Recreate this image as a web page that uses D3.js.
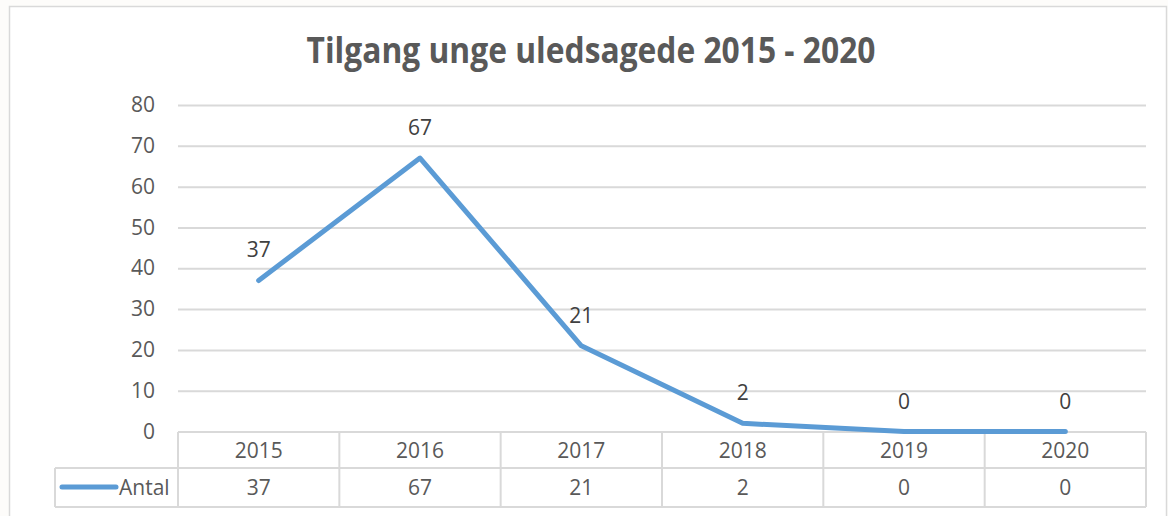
<!DOCTYPE html>
<html>
<head>
<meta charset="utf-8">
<script src="https://cdn.jsdelivr.net/npm/d3@7"></script>
<style>
  html, body { margin: 0; padding: 0; background: #fdfcfa; }
  svg { display: block; }
  text { font-family: "Open Sans", "Noto Sans", sans-serif; }
</style>
</head>
<body>
<svg id="chart"></svg>
<script>
const years = ["2015", "2016", "2017", "2018", "2019", "2020"];
const antal = [37, 67, 21, 2, 0, 0];
const yTicks = [0, 10, 20, 30, 40, 50, 60, 70, 80];
const seriesName = "Antal";
const title = "Tilgang unge uledsagede 2015 - 2020";

const width = 1168, height = 516;
const margin = {top: 105, left: 178, right: 1146, bottom: 431.5};
const row1 = 468, row2 = 507, legendLeft = 55;
const grid = "#d9d9d9", textCol = "#595959", blue = "#5b9bd5";

const svg = d3.select("#chart").attr("width", width).attr("height", height);

// chart area
svg.append("rect").attr("x", 9.5).attr("y", 6.5)
  .attr("width", 1157).attr("height", 520)
  .attr("fill", "#fff").attr("stroke", grid).attr("stroke-width", 1.5);

const x = d3.scaleBand().domain(years).range([margin.left, margin.right]);
const y = d3.scaleLinear().domain([0, 80]).range([margin.bottom, margin.top]);

// gridlines + y labels
const yAxis = d3.axisLeft(y).tickValues(yTicks)
  .tickSize(-(margin.right - margin.left)).tickPadding(23);
const ga = svg.append("g").attr("transform", `translate(${margin.left},0)`).call(yAxis);
ga.select(".domain").remove();
ga.selectAll(".tick line").attr("stroke", grid).attr("stroke-width", 2)
  .filter(d => d === 0).remove();
ga.selectAll(".tick text").attr("fill", textCol)
  .style("font-size", "21px").style("font-family", "'Open Sans', sans-serif");

// title
svg.append("text").attr("x", 591).attr("y", 63)
  .attr("text-anchor", "middle").attr("fill", textCol)
  .attr("font-weight", "bold").style("font-size", "35px")
  .attr("textLength", 569).attr("lengthAdjust", "spacingAndGlyphs")
  .text(title);

// data table
const tbl = svg.append("g").attr("stroke", grid).attr("stroke-width", 2).attr("fill", "none");
tbl.append("line").attr("x1", margin.left).attr("x2", margin.right).attr("y1", 432).attr("y2", 432);
tbl.append("line").attr("x1", legendLeft).attr("x2", margin.right).attr("y1", row1).attr("y2", row1);
tbl.append("line").attr("x1", legendLeft).attr("x2", margin.right).attr("y1", row2).attr("y2", row2);
tbl.append("line").attr("x1", legendLeft).attr("x2", legendLeft).attr("y1", row1).attr("y2", row2);
const bounds = years.map(d => x(d)).concat([margin.right]);
tbl.selectAll("line.v").data(bounds).enter().append("line").attr("class", "v")
  .attr("x1", d => d).attr("x2", d => d).attr("y1", 432).attr("y2", row2);

svg.append("g").selectAll("text").data(years).enter().append("text")
  .attr("x", d => x(d) + x.bandwidth() / 2).attr("y", 457.5)
  .attr("text-anchor", "middle").attr("fill", textCol).style("font-size", "21px")
  .text(d => d);
svg.append("g").selectAll("text").data(antal).enter().append("text")
  .attr("x", (d, i) => x(years[i]) + x.bandwidth() / 2).attr("y", 495)
  .attr("text-anchor", "middle").attr("fill", textCol).style("font-size", "21px")
  .text(d => d);

// legend key
svg.append("line").attr("x1", 62).attr("x2", 116).attr("y1", 487).attr("y2", 487)
  .attr("stroke", blue).attr("stroke-width", 5).attr("stroke-linecap", "round");
svg.append("text").attr("x", 119).attr("y", 495).attr("fill", textCol)
  .style("font-size", "21px").text(seriesName);

// line
const line = d3.line()
  .x((d, i) => x(years[i]) + x.bandwidth() / 2)
  .y(d => y(d));
svg.append("path").datum(antal).attr("d", line)
  .attr("fill", "none").attr("stroke", blue).attr("stroke-width", 5)
  .attr("stroke-linejoin", "round").attr("stroke-linecap", "round");

// data labels
svg.append("g").selectAll("text").data(antal).enter().append("text")
  .attr("x", (d, i) => x(years[i]) + x.bandwidth() / 2).attr("y", d => y(d) - 23)
  .attr("text-anchor", "middle").attr("fill", "#404040").style("font-size", "21px")
  .text(d => d);
</script>
</body>
</html>
